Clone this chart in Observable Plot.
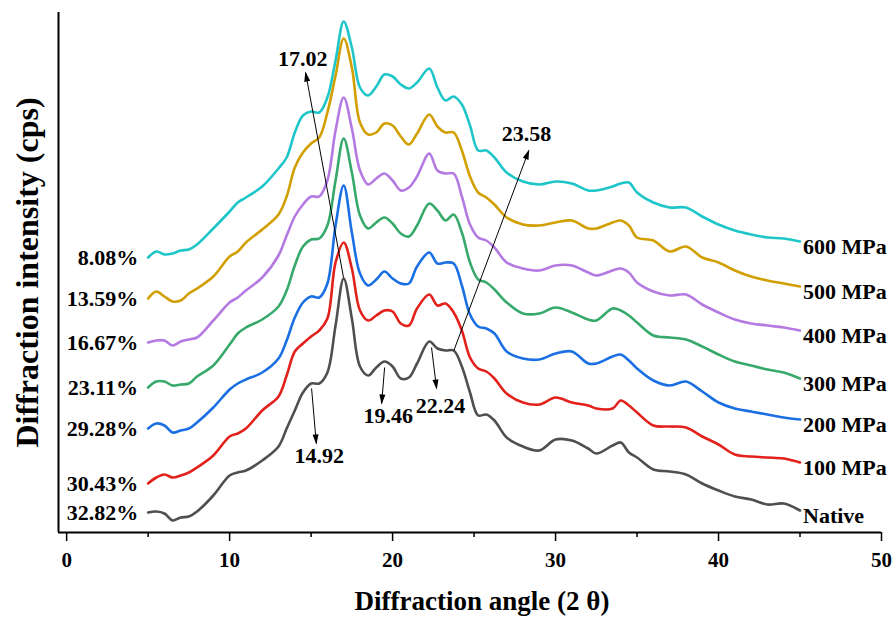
<!DOCTYPE html>
<html>
<head>
<meta charset="utf-8">
<script src="https://cdn.jsdelivr.net/npm/d3@7"></script>
<script src="https://cdn.jsdelivr.net/npm/@observablehq/plot@0.6"></script>
<style>
  html, body { margin: 0; padding: 0; background: #fff; }
  #chart { width: 894px; height: 619px; }
</style>
</head>
<body>
<div id="chart"></div>
<script>
// Diffraction angle (2θ) sample positions shared by all patterns
const angles = [5,5.5,6,6.5,7,7.5,8,9,10,10.5,11,12,13,13.5,14,14.5,15,15.5,16,16.5,17,17.5,18,18.5,19,19.5,20,20.5,21,21.5,22.25,22.75,23.25,23.75,24.25,24.75,25.25,25.75,26.25,27,28,29,30,31,32,32.5,33.5,34,34.5,35,36,37,38,39,40,41,42,43,44,45];

// Stacked diffraction intensities (cps)
const native = [200,210,190,120,150,160,210,370,570,600,620,720,860,1040,1220,1400,1490,1490,1600,2070,2540,2140,1660,1570,1650,1710,1660,1540,1550,1690,1910,1840,1820,1820,1660,1400,1170,1180,1120,950,860,820,930,920,840,790,870,900,800,750,630,610,580,490,420,360,330,280,290,220];
const mpa100 = [490,550,580,550,570,600,650,770,960,990,1040,1220,1360,1570,1810,1890,1960,2020,2140,2700,2900,2640,2220,2120,2170,2220,2210,2090,2070,2240,2380,2270,2290,2200,2020,1750,1640,1610,1540,1390,1300,1280,1350,1300,1270,1240,1240,1320,1270,1200,1070,1060,1050,960,880,780,760,750,740,700];
const mpa200 = [1040,1090,1070,1000,1020,1040,1100,1250,1430,1490,1530,1600,1740,1920,2150,2300,2360,2350,2490,3070,3470,3000,2590,2470,2530,2610,2540,2490,2490,2660,2800,2690,2700,2690,2470,2180,2060,2040,1990,1810,1740,1730,1790,1810,1690,1690,1760,1780,1720,1640,1520,1470,1510,1410,1300,1240,1210,1180,1150,1130];
const mpa300 = [1450,1510,1510,1470,1480,1490,1560,1670,1880,1990,2050,2130,2260,2420,2670,2860,2930,2940,3070,3520,3940,3600,3170,3040,3100,3150,3090,2990,2960,3070,3290,3220,3120,3180,3000,2700,2530,2500,2430,2300,2190,2190,2250,2200,2130,2120,2240,2220,2170,2100,1970,1950,1930,1860,1780,1710,1670,1630,1600,1540];
const mpa400 = [1900,1920,1920,1870,1910,1930,1950,2120,2300,2350,2420,2550,2770,2970,3160,3280,3360,3360,3520,4020,4350,4040,3620,3480,3540,3590,3520,3420,3450,3560,3790,3620,3590,3590,3360,3080,2950,2920,2850,2700,2640,2620,2670,2670,2600,2570,2620,2640,2600,2500,2410,2370,2380,2280,2200,2130,2090,2070,2050,2020];
const mpa500 = [2340,2410,2360,2310,2320,2390,2440,2560,2760,2810,2900,3030,3180,3360,3650,3800,3890,3950,4200,4570,4940,4650,4100,3980,4000,4090,4070,3960,3880,3990,4180,4060,4000,4000,3820,3560,3400,3350,3280,3150,3080,3070,3100,3120,3040,3040,3100,3120,3070,2950,2920,2810,2860,2750,2700,2620,2560,2520,2490,2460];
const mpa600 = [2750,2810,2780,2790,2820,2830,2880,3040,3210,3300,3350,3460,3640,3750,4000,4170,4210,4200,4350,4720,5110,4850,4450,4370,4460,4580,4560,4480,4440,4500,4640,4450,4320,4360,4280,4070,3820,3820,3750,3600,3510,3480,3510,3490,3420,3420,3460,3490,3500,3400,3300,3250,3250,3160,3080,3020,2980,2950,2940,2910];

const seriesNames = ["Native","100 MPa","200 MPa","300 MPa","400 MPa","500 MPa","600 MPa"];
const seriesValues = [native, mpa100, mpa200, mpa300, mpa400, mpa500, mpa600];
const crystallinity = ["32.82%","30.43%","29.28%","23.11%","16.67%","13.59%","8.08%"];
const seriesColors = ["#4f4f4f","#e2211c","#1a6fe3","#36a96b","#b47ae2","#d29f00","#1fc6c9"];
const xTicks = [0,10,20,30,40,50];
const xMinorTicks = [5,15,25,35,45];

// Peak annotations: arrow from the Native pattern to the label
const peakLabels = ["17.02","23.58","14.92","19.46","22.24"];
const arrowFromX = [16.99,23.76,15.03,19.51,22.39];
const arrowFromY = [2550,1820,1440,1650,1850];
const arrowToX   = [14.66,28.36,15.32,19.33,22.70];
const arrowToY   = [4600,3820,890,1290,1440];
const labelX     = [14.48,28.22,15.50,19.74,22.94];
const labelY     = [4740,3990,770,1170,1270];

const rows = seriesValues.flatMap((vals, i) =>
  vals.map((v, j) => ({angle: angles[j], intensity: v, series: seriesNames[i]})));
const starts = seriesValues.map((vals, i) => ({angle: angles[0], intensity: vals[0], text: crystallinity[i]}));
const ends = seriesValues.map((vals, i) => ({angle: angles[angles.length - 1], intensity: vals[vals.length - 1], text: seriesNames[i]}));
const annots = peakLabels.map((t, i) => ({t, x1: arrowFromX[i], y1: arrowFromY[i], x2: arrowToX[i], y2: arrowToY[i], lx: labelX[i], ly: labelY[i]}));

const font = "'Liberation Serif', 'Times New Roman', serif";
const bold = {fontFamily: font, fontWeight: "bold", fill: "black"};

const svg = Plot.plot({
  width: 894,
  height: 619,
  marginLeft: 58,
  marginRight: 13,
  marginTop: 12,
  marginBottom: 87,
  style: {fontFamily: font, background: "white", color: "black", overflow: "visible"},
  x: {domain: [-0.5, 50]},
  y: {domain: [0, 5200], axis: null},
  color: {domain: seriesNames, range: seriesColors},
  marks: [
    Plot.axisX({ticks: xMinorTicks, tickSize: 5, strokeWidth: 1.5, tickFormat: () => "", label: null}),
    Plot.axisX({ticks: xTicks, tickSize: 9, tickPadding: 11, strokeWidth: 1.5, fontSize: 21, fontWeight: "bold", fontFamily: font, tickFormat: d => String(d), label: null}),
    Plot.ruleY([0], {strokeWidth: 2, stroke: "black"}),
    Plot.ruleX([-0.5], {strokeWidth: 2, stroke: "black"}),
    Plot.line(rows, {x: "angle", y: "intensity", z: "series", stroke: "series", strokeWidth: 2.6, curve: "catmull-rom"}),
    Plot.text(starts, {x: "angle", y: "intensity", text: "text", textAnchor: "end", lineAnchor: "middle", dx: -10, fontSize: 22, ...bold}),
    Plot.text(ends, {x: "angle", y: "intensity", text: "text", textAnchor: "start", lineAnchor: "middle", dx: 3, dy: 5, fontSize: 22, ...bold}),
    Plot.link(annots, {x1: "x1", y1: "y1", x2: "x2", y2: "y2", stroke: "black", strokeWidth: 1, markerEnd: "arrow"}),
    Plot.text(annots, {x: "lx", y: "ly", text: "t", lineAnchor: "middle", fontSize: 22, ...bold}),
    Plot.text(["Diffraction intensity (cps)"], {text: d => d, frameAnchor: "left", textAnchor: "middle", rotate: -90, dx: -31, lineAnchor: "middle", fontSize: 32, ...bold}),
    Plot.text(["Diffraction angle (2 θ)"], {text: d => d, frameAnchor: "bottom", textAnchor: "middle", dx: 12, dy: 69, lineAnchor: "middle", fontSize: 27, ...bold})
  ]
});

// filled arrowheads like the original figure
d3.select(svg).selectAll("marker")
  .attr("viewBox", "-10 -5 12 10")
  .attr("markerWidth", 12)
  .attr("markerHeight", 10)
  .attr("fill", "black")
  .attr("stroke", "none")
  .selectAll("path")
  .attr("d", "M-9,-3L1,0L-9,3Z");

document.getElementById("chart").appendChild(svg);
</script>
</body>
</html>
